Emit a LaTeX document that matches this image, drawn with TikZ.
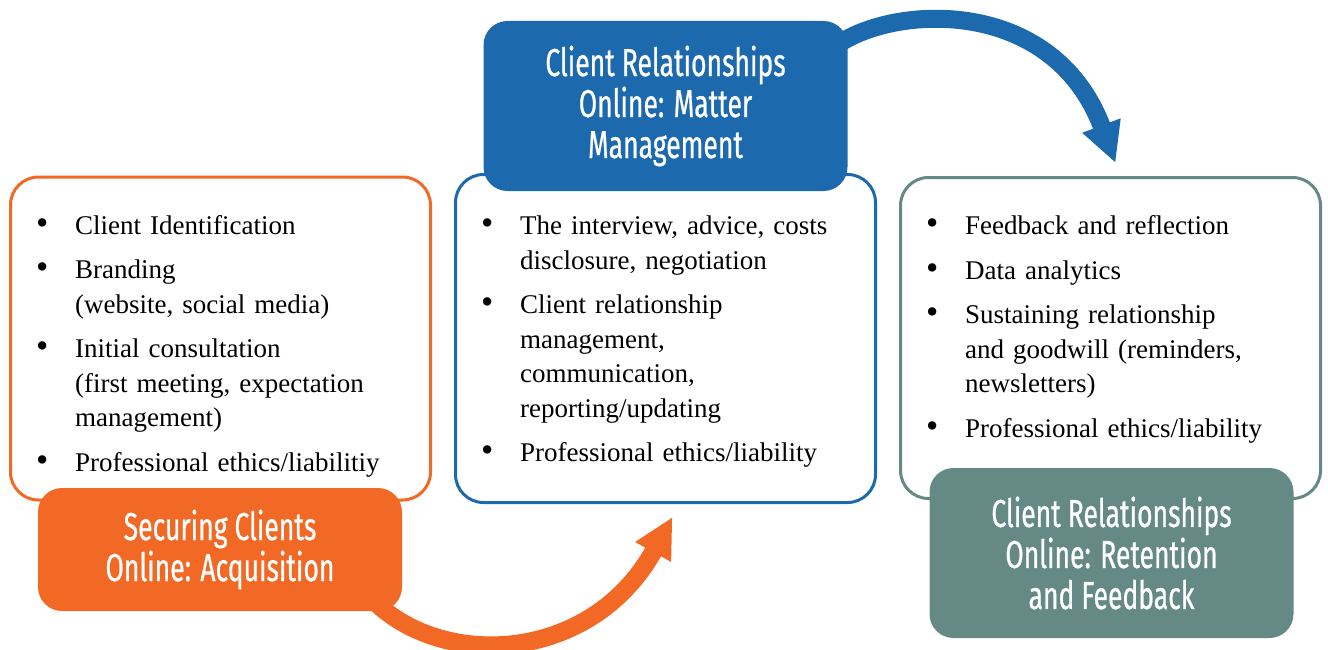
\documentclass[tikz,border=0pt]{standalone}
\usepackage{fontspec}
\usepackage{enumitem}
\setmainfont{Liberation Serif}
\newfontfamily\titlefont[FakeStretch=0.68, FakeBold=0.6]{Fira Sans}
\usepackage{tikz}
\usetikzlibrary{positioning,arrows.meta,backgrounds}
\definecolor{acqorange}{HTML}{F26825}
\definecolor{matblue}{HTML}{1C69AD}
\definecolor{retteal}{HTML}{658A85}
\tikzstyle{listbox} = [rectangle, draw, line width=3pt, fill=white,
    rounded corners=28pt, minimum width=420pt]
\tikzstyle{titlebox} = [rectangle, rounded corners=24pt, text=white,
    align=center, minimum width=364pt,
    font=\titlefont\fontsize{39}{41}\selectfont]
\tikzstyle{listtext} = [anchor=north west, inner sep=0pt, text width=420pt,
    align=left, font=\fontsize{27}{34.5}\selectfont]
\tikzstyle{flow} = [line width=18pt, -{Triangle[width=38pt,length=40pt]}]
\newcommand{\pointlist}[1]{\begin{itemize}[leftmargin=66pt, labelwidth=39pt,
    labelsep=0pt, align=left, itemsep=10pt, topsep=0pt, parsep=0pt,
    partopsep=0pt, label={\fontsize{35}{35}\selectfont\textbullet}]#1\end{itemize}}

\begin{document}
\begin{tikzpicture}[x=1pt, y=-1pt]
    \useasboundingbox (0,0) rectangle (1328,650);
    % Place nodes
    % Boxes
    \node [listbox, draw=acqorange, minimum height=323pt] (acqbox) at (220.5,338.5) {};
    \node [listbox, draw=matblue, minimum height=328pt] (matbox) at (665.5,338.5) {};
    \node [listbox, draw=retteal, minimum height=321pt] (retbox) at (1110.5,338) {};

    % Titles
    \node [titlebox, fill=acqorange, minimum height=123pt] (acq) at (220,549.5)
        {Securing Clients\\Online: Acquisition};
    \node [titlebox, fill=matblue, minimum height=170pt] (mat) at (665.5,106)
        {Client Relationships\\Online: Matter\\Management};
    \node [titlebox, fill=retteal, minimum height=170pt] (ret) at (1111.5,553)
        {Client Relationships\\Online: Retention\\and Feedback};

    % Draw edges
    \begin{scope}[on background layer]
    \draw[flow, acqorange] ([xshift=-30pt, yshift=12pt]acq.south east)
        .. controls +(68,70) and +(-82,148) .. ([xshift=7pt, yshift=-13pt]matbox.south);
    \draw[flow, matblue] ([xshift=-18pt, yshift=-30pt]mat.north east)
        .. controls +(50,-45) and +(-65,-173) .. ([xshift=5pt, yshift=13pt]retbox.north);
    \end{scope}

    % Lists
    \node [listtext, below right=24pt and 0pt of acqbox.north west] (acqlist) {\pointlist{
        \item Client Identification
        \item Branding\newline(website, social media)
        \item Initial consultation\newline(first meeting, expectation\newline management)
        \item Professional ethics/liabilitiy}};
    \node [listtext, below right=27pt and 0pt of matbox.north west] (matlist) {\pointlist{
        \item The interview, advice, costs\newline disclosure, negotiation
        \item Client relationship\newline management,\newline communication,\newline reporting/updating
        \item Professional ethics/liability}};
    \node [listtext, below right=24pt and 0pt of retbox.north west] (retlist) {\pointlist{
        \item Feedback and reflection
        \item Data analytics
        \item Sustaining relationship\newline and goodwill (reminders,\newline newsletters)
        \item Professional ethics/liability}};
\end{tikzpicture}
\end{document}
